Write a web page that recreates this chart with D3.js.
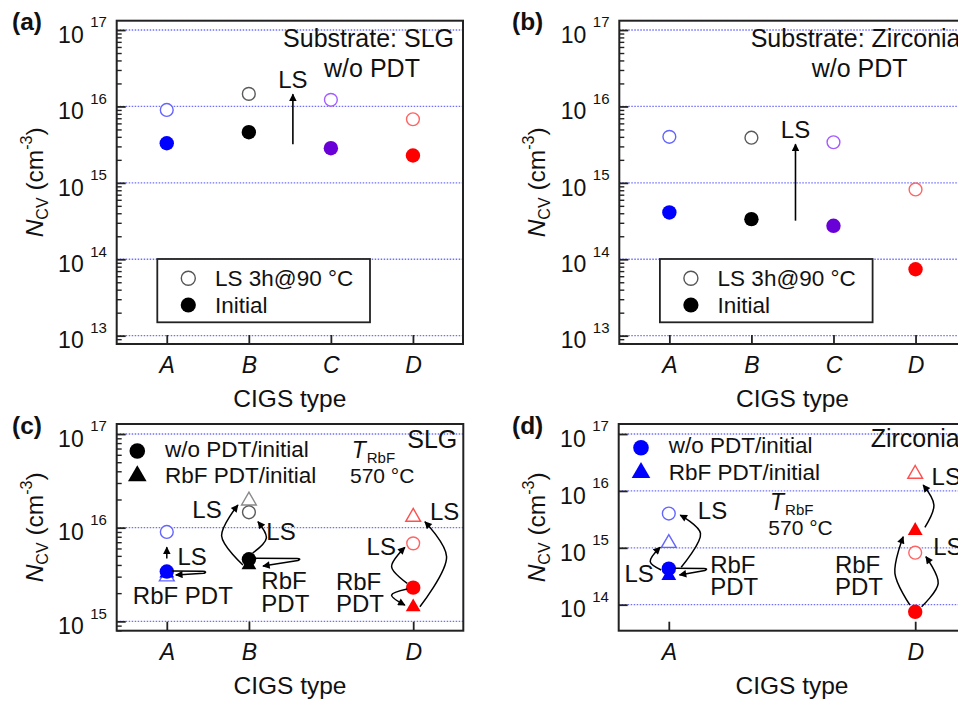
<!DOCTYPE html>
<html>
<head>
<meta charset="utf-8">
<script src="https://cdn.jsdelivr.net/npm/d3@7"></script>
<style>
  html, body { margin: 0; padding: 0; background: #fff; }
  svg { display: block; font-family: "Liberation Sans", Arial, sans-serif; }
</style>
</head>
<body>
<svg id="fig" width="958" height="702"></svg>
<script>
// ---------- data ----------
const categories = ["A", "B", "C", "D"];

// (a) SLG substrate, without PDT
const slgInitial = [3.3e15, 4.6e15, 2.84e15, 2.28e15];
const slgLS = [9.0e15, 1.46e16, 1.22e16, 6.8e15];
const slgArrowSpan = [3.2e15, 1.44e16];

// (b) zirconia substrate, without PDT
const zrInitial = [4.1e14, 3.35e14, 2.74e14, 7.4e13];
const zrLS = [4.0e15, 3.9e15, 3.4e15, 8.2e14];
const zrArrowSpan = [3.2e14, 3.2e15];

// (c) SLG, w/o PDT vs RbF PDT
const slgCats = ["A", "B", "D"];
const slgNoPdtInitial = [3.4e15, 4.6e15, 2.29e15];
const slgNoPdtLS = [9.0e15, 1.46e16, 6.8e15];
const slgRbfInitial = [3.26e15, 4.0e15, 1.42e15];
const slgRbfLS = [3.0e15, 1.94e16, 1.3e16];

// (d) zirconia, w/o PDT vs RbF PDT
const zrCats = ["A", "D"];
const zrNoPdtInitial = [4.3e14, 7.5e13];
const zrNoPdtLS = [4.0e15, 8.2e14];
const zrRbfInitial = [3.24e14, 2.0e15];
const zrRbfLS = [1.21e15, 1.98e16];

const yTickExponents = [13, 14, 15, 16, 17];

// ---------- styles ----------
const fillColors = { A: "#0000ff", B: "#000000", C: "#6a00d8", D: "#ff0000" };
const openColors = { A: "#6464ff", B: "#5a5a5a", C: "#a35cff", D: "#ff6464" };
const openTriColors = { A: "#6464ff", B: "#8a8a8a", C: "#a35cff", D: "#ff5050" };
const gridColor = "#7070ff";
const TXT = 24;      // annotation text
const TITLE = 24.5;  // axis titles

const svg = d3.select("#fig");
const defs = svg.append("defs");
defs.append("marker")
  .attr("id", "head").attr("viewBox", "0 0 10 10")
  .attr("refX", 9).attr("refY", 5)
  .attr("markerWidth", 9).attr("markerHeight", 7.5)
  .attr("markerUnits", "userSpaceOnUse").attr("orient", "auto")
  .append("path").attr("d", "M0,0L10,5L0,10z").attr("fill", "#000");

const triPath = d3.symbol(d3.symbolTriangle, 95)();
const triLegend = d3.symbol(d3.symbolTriangle, 150)();

function makePanel(cfg) {
  const x = d3.scalePoint().domain(categories)
    .range([cfg.left, cfg.left + cfg.width]).padding(0.61);
  const y = d3.scaleLog().domain([Math.pow(10, cfg.logMin), Math.pow(10, cfg.logMax)])
    .range([cfg.top + cfg.height, cfg.top]);
  const g = svg.append("g");
  const bottom = cfg.top + cfg.height;
  const majors = yTickExponents.filter(e => e >= cfg.logMin && e <= cfg.logMax).map(e => Math.pow(10, e));

  // dotted grid at every decade
  g.selectAll("line.grid").data(majors).join("line").attr("class", "grid")
    .attr("x1", cfg.left).attr("x2", cfg.left + cfg.width)
    .attr("y1", d => y(d)).attr("y2", d => y(d))
    .attr("stroke", gridColor).attr("stroke-width", 1.3).attr("stroke-dasharray", "1.5,1.5");

  // inward ticks on the left axis
  const yAxis = d3.axisRight(y).tickValues(majors).tickSize(9).tickFormat(() => "");
  const ya = g.append("g").attr("transform", `translate(${cfg.left},0)`).call(yAxis);
  ya.select(".domain").remove();
  ya.selectAll("line").attr("stroke", "#222").attr("stroke-width", 1.8);
  if (cfg.minor) {
    const minors = [];
    for (let e = Math.floor(cfg.logMin); e <= Math.ceil(cfg.logMax); e++)
      for (let m = 2; m <= 9; m++) {
        const v = m * Math.pow(10, e);
        if (Math.log10(v) > cfg.logMin && Math.log10(v) < cfg.logMax) minors.push(v);
      }
    const ym = g.append("g").attr("transform", `translate(${cfg.left},0)`)
      .call(d3.axisRight(y).tickValues(minors).tickSize(5).tickFormat(() => ""));
    ym.select(".domain").remove();
    ym.selectAll("line").attr("stroke", "#222").attr("stroke-width", 1.4);
  }

  // power-of-ten labels
  const lab = g.selectAll("g.ylab").data(majors).join("g").attr("class", "ylab");
  lab.append("text").attr("x", cfg.left - 33).attr("y", d => y(d) + 12.8)
    .attr("text-anchor", "end").attr("font-size", 23).attr("fill", "#111").text("10");
  lab.append("text").attr("x", cfg.left - 26.5).attr("y", d => y(d) - 2.7)
    .attr("font-size", 15).attr("fill", "#111").text(d => Math.round(Math.log10(d)));

  // category axis: ticks pointing up into the frame
  const xAxis = d3.axisBottom(x).tickValues(cfg.ticksX).tickSizeInner(-9).tickSizeOuter(0).tickPadding(13);
  const xa = g.append("g").attr("transform", `translate(0,${bottom})`).call(xAxis);
  xa.select(".domain").remove();
  xa.selectAll("line").attr("stroke", "#222").attr("stroke-width", 1.8);
  xa.selectAll("text").attr("font-size", 23).attr("font-style", "italic")
    .attr("font-family", "'Liberation Sans', Arial, sans-serif").attr("fill", "#111");

  // frame
  g.append("rect").attr("x", cfg.left).attr("y", cfg.top)
    .attr("width", cfg.width).attr("height", cfg.height)
    .attr("fill", "none").attr("stroke", "#222").attr("stroke-width", 2);

  // axis titles
  const yt = g.append("text")
    .attr("transform", `translate(${cfg.left - 74},${cfg.top + cfg.height / 2}) rotate(-90)`)
    .attr("text-anchor", "middle").attr("font-size", TITLE).attr("fill", "#111");
  yt.append("tspan").attr("font-style", "italic").text("N");
  yt.append("tspan").attr("font-size", 16).attr("dy", 5).text("CV");
  yt.append("tspan").attr("dy", -5).text(" (cm");
  yt.append("tspan").attr("font-size", 16).attr("dy", -11).text("-3");
  yt.append("tspan").attr("dy", 11).text(")");

  g.append("text").attr("x", cfg.left + cfg.width / 2).attr("y", bottom + 63)
    .attr("text-anchor", "middle").attr("font-size", TITLE).attr("fill", "#111").text("CIGS type");

  g.append("text").attr("x", cfg.letterX).attr("y", cfg.top + 9.5)
    .attr("font-size", 24.5).attr("font-weight", "bold").attr("fill", "#111").text(`(${cfg.id})`);

  const P = (cat, v, dx = 0, dy = 0) => [x(cat) + dx, y(v) + dy];
  return { g, x, y, P, cfg };
}

function openCircles(p, cats, vals, colors) {
  p.g.append("g").selectAll("circle").data(cats).join("circle")
    .attr("cx", d => p.x(d)).attr("cy", (d, i) => p.y(vals[i])).attr("r", 6.4)
    .attr("fill", "#fff").attr("stroke", d => colors[d]).attr("stroke-width", 1.4);
}
function filledCircles(p, cats, vals) {
  p.g.append("g").selectAll("circle").data(cats).join("circle")
    .attr("cx", d => p.x(d)).attr("cy", (d, i) => p.y(vals[i])).attr("r", 7.2)
    .attr("fill", d => fillColors[d]);
}
function openTriangles(p, cats, vals) {
  p.g.append("g").selectAll("path").data(cats).join("path").attr("d", triPath)
    .attr("transform", (d, i) => `translate(${p.x(d)},${p.y(vals[i])})`)
    .attr("fill", "#fff").attr("stroke", d => openTriColors[d]).attr("stroke-width", 1.4);
}
function filledTriangles(p, cats, vals) {
  p.g.append("g").selectAll("path").data(cats).join("path").attr("d", triPath)
    .attr("transform", (d, i) => `translate(${p.x(d)},${p.y(vals[i])})`)
    .attr("fill", d => fillColors[d]);
}

const curve = d3.line().curve(d3.curveCatmullRom.alpha(0.5));
function arrow(p, pts) {
  p.g.append("path").attr("d", curve(pts)).attr("fill", "none")
    .attr("stroke", "#000").attr("stroke-width", 1.5).attr("marker-end", "url(#head)");
}
// thin loop from the initial point out to the right and back onto the PDT point
function hairpin(p, cat, v, start, reach, end) {
  const s = p.P(cat, v, start[0], start[1]);
  const e = p.P(cat, v, end[0], end[1]);
  const tx = s[0] + reach;
  const d = `M${s[0]},${s[1]}L${tx - 3},${s[1] + 0.3}Q${tx + 2},${s[1] + 0.6} ${tx - 2},${s[1] + 2.2}L${e[0]},${e[1]}`;
  p.g.append("path").attr("d", d).attr("fill", "none")
    .attr("stroke", "#000").attr("stroke-width", 1.5).attr("marker-end", "url(#head)");
}
function label(p, pos, txt, size = TXT, anchor = "start") {
  return p.g.append("text").attr("x", pos[0]).attr("y", pos[1]).attr("font-size", size)
    .attr("text-anchor", anchor).attr("fill", "#111").text(txt);
}

// ---------- panels (a) and (b) ----------
function topPanel(cfg, initial, ls, span, title) {
  const p = makePanel(cfg);
  openCircles(p, categories, ls, openColors);
  filledCircles(p, categories, initial);
  // LS arrow between B and C
  const ax = p.x("B") + 0.537 * p.x.step();
  p.g.append("line").attr("x1", ax).attr("x2", ax)
    .attr("y1", p.y(span[0])).attr("y2", p.y(span[1]))
    .attr("stroke", "#000").attr("stroke-width", 1.6).attr("marker-end", "url(#head)");
  label(p, [ax, p.y(span[1]) - 6], "LS", TXT, "middle");
  // substrate note
  title(p);
  // legend
  const bx = cfg.left + 40.6, by = 259;
  const lg = p.g.append("g");
  lg.append("rect").attr("x", bx).attr("y", by).attr("width", 212.7).attr("height", 63.3)
    .attr("fill", "#fff").attr("stroke", "#222").attr("stroke-width", 1.8);
  lg.append("circle").attr("cx", bx + 31).attr("cy", by + 19.3).attr("r", 7)
    .attr("fill", "#fff").attr("stroke", "#555").attr("stroke-width", 1.4);
  lg.append("circle").attr("cx", bx + 31).attr("cy", by + 46).attr("r", 7.6).attr("fill", "#000");
  label(p, [bx + 57.7, by + 27], "LS 3h@90 °C", 22.5);
  label(p, [bx + 57.7, by + 54.3], "Initial", 22.5);
  return p;
}

const pa = topPanel(
  { id: "a", left: 116.7, top: 20.7, width: 346.3, height: 323.3, logMin: 12.891, logMax: 17.122,
    minor: true, ticksX: categories, letterX: 12 },
  slgInitial, slgLS, slgArrowSpan,
  p => {
    label(p, [p.cfg.left + p.cfg.width - 9, 47.3], "Substrate: SLG", 25, "end");
    label(p, [372, 76.7], "w/o PDT", 25, "middle");
  });

const pb = topPanel(
  { id: "b", left: 619.3, top: 20.7, width: 346.3, height: 323.3, logMin: 12.891, logMax: 17.122,
    minor: true, ticksX: categories, letterX: 512 },
  zrInitial, zrLS, zrArrowSpan,
  p => {
    label(p, [750.7, 47.3], "Substrate: Zirconia", 25, "start");
    label(p, [811.7, 76.7], "w/o PDT", 25, "start");
  });

// ---------- legend for the lower panels ----------
function lowerLegend(p, color, ox, oy) {
  const l = p.cfg.left + ox, t = p.cfg.top + oy;
  p.g.append("circle").attr("cx", l).attr("cy", t).attr("r", 7.8).attr("fill", color);
  p.g.append("path").attr("d", triLegend).attr("transform", `translate(${l},${t + 25})`).attr("fill", color);
  label(p, [l + 27.7, t + 5.7], "w/o PDT/initial", 22.5);
  label(p, [l + 27.7, t + 32], "RbF PDT/initial", 22.5);
}
function tempNote(p, ox, oy) {
  const t = p.g.append("text").attr("x", p.cfg.left + ox).attr("y", p.cfg.top + oy)
    .attr("font-size", 23).attr("fill", "#111");
  t.append("tspan").attr("font-style", "italic").text("T");
  t.append("tspan").attr("font-size", 15).attr("dy", 5).attr("dx", 1).text("RbF");
  label(p, [p.cfg.left + ox - 1.7, p.cfg.top + oy + 25], "570 °C", 21);
}

// ---------- panel (c) ----------
const pc = makePanel({ id: "c", left: 116.7, top: 424, width: 346.6, height: 206.7,
  logMin: 14.9, logMax: 17.107, minor: true, ticksX: slgCats, letterX: 12 });
lowerLegend(pc, "#000", 20.6, 27);
tempNote(pc, 235, 34.3);
label(pc, [pc.cfg.left + pc.cfg.width - 6, pc.cfg.top + 24], "SLG", 25, "end");

openTriangles(pc, slgCats, slgRbfLS);
openCircles(pc, slgCats, slgNoPdtLS, openColors);
filledTriangles(pc, slgCats, slgRbfInitial);
filledCircles(pc, slgCats, slgNoPdtInitial);

{
  const P = pc.P;
  const [cA, cB, cD] = slgNoPdtInitial, [oA, oB, oD] = slgNoPdtLS;
  const [tA, tB, tD] = slgRbfInitial, [, otB, otD] = slgRbfLS;
  // A
  arrow(pc, [P("A", cA, 0, -13), P("A", oA, 0, 15.4)]);
  hairpin(pc, "A", cA, [5, -0.5], 34, [9, 3.5]);
  label(pc, P("A", cA, 10.7, -6.5), "LS");
  label(pc, P("A", cA, -34, 32.5), "RbF PDT");
  // B
  arrow(pc, [P("B", cB, -6, 5.8), P("B", cB, -27.3, -23.2), P("B", otB, -11, 4.3)]);
  arrow(pc, [P("B", cB, 3.7, -6.2), P("B", cB, 17.4, -21.2), P("B", oB, 9, 9.4)]);
  hairpin(pc, "B", cB, [5, -1], 46, [14, 6.8]);
  label(pc, P("B", otB, -56.6, 17.6), "LS");
  label(pc, P("B", oB, 17.4, 27.7), "LS");
  label(pc, P("B", tB, 12.4, 24.1), "RbF");
  label(pc, P("B", tB, 12.4, 47.4), "PDT");
  // D
  arrow(pc, [P("D", cD, -6, -4.3), P("D", cD, -21.6, -20.9), P("D", oD, -8.3, 4)]);
  arrow(pc, [P("D", cD, -6, 1.4), P("D", cD, -21.6, 7.4), P("D", tD, -8.3, -2)]);
  arrow(pc, [P("D", tD, 6.7, -0.3), P("D", tD, 33.4, -50.3), P("D", otD, 11.7, 4.7)]);
  label(pc, P("D", oD, -46.6, 11.7), "LS");
  label(pc, P("D", otD, 16.7, 3), "LS");
  label(pc, P("D", cD, -77.3, 2.4), "RbF");
  label(pc, P("D", cD, -77.3, 24.1), "PDT");
}

// ---------- panel (d) ----------
const pd = makePanel({ id: "d", left: 618.7, top: 424, width: 346.6, height: 206.7,
  logMin: 13.543, logMax: 17.176, minor: false, ticksX: zrCats, letterX: 512 });
lowerLegend(pd, "#0000ff", 22.3, 23.7);
tempNote(pd, 151.3, 86);
label(pd, [pd.cfg.left + 252, pd.cfg.top + 22.7], "Zirconia", 25);

openTriangles(pd, zrCats, zrRbfLS);
openCircles(pd, zrCats, zrNoPdtLS, openColors);
filledTriangles(pd, zrCats, zrRbfInitial);
filledCircles(pd, zrCats, zrNoPdtInitial);

{
  const P = pd.P;
  const [cA, cD] = zrNoPdtInitial, [oA, oD] = zrNoPdtLS;
  const [, tD] = zrRbfInitial, [otA, otD] = zrRbfLS;
  // A
  arrow(pd, [P("A", cA, 12.4, -1.4), P("A", cA, 31.7, -35.4), P("A", oA, 11.4, 1.5)]);
  arrow(pd, [P("A", cA, -7.6, 1.3), P("A", cA, -18.6, -7), P("A", otA, -8.6, 4.2)]);
  hairpin(pd, "A", cA, [6, -0.4], 32, [10.7, 6.3]);
  label(pd, P("A", oA, 29, 5.8), "LS");
  label(pd, P("A", cA, -44.3, 13), "LS");
  label(pd, P("A", cA, 41.4, 4.6), "RbF");
  label(pd, P("A", cA, 41.4, 26.3), "PDT");
  // D
  arrow(pd, [P("D", cD, -5.3, -6.8), P("D", cD, -20.3, -38.5), P("D", tD, -12, 6)]);
  arrow(pd, [P("D", cD, 6.4, -5.1), P("D", cD, 23, -28.5), P("D", oD, 10.7, 4)]);
  arrow(pd, [P("D", tD, 9.7, -3.4), P("D", tD, 18.7, -25.7), P("D", otD, 8, 11)]);
  label(pd, P("D", otD, 16.4, 11), "LS");
  label(pd, P("D", oD, 18, 2.3), "LS");
  label(pd, P("D", tD, -80.3, 42.6), "RbF");
  label(pd, P("D", tD, -80.3, 64.3), "PDT");
}
</script>
</body>
</html>
